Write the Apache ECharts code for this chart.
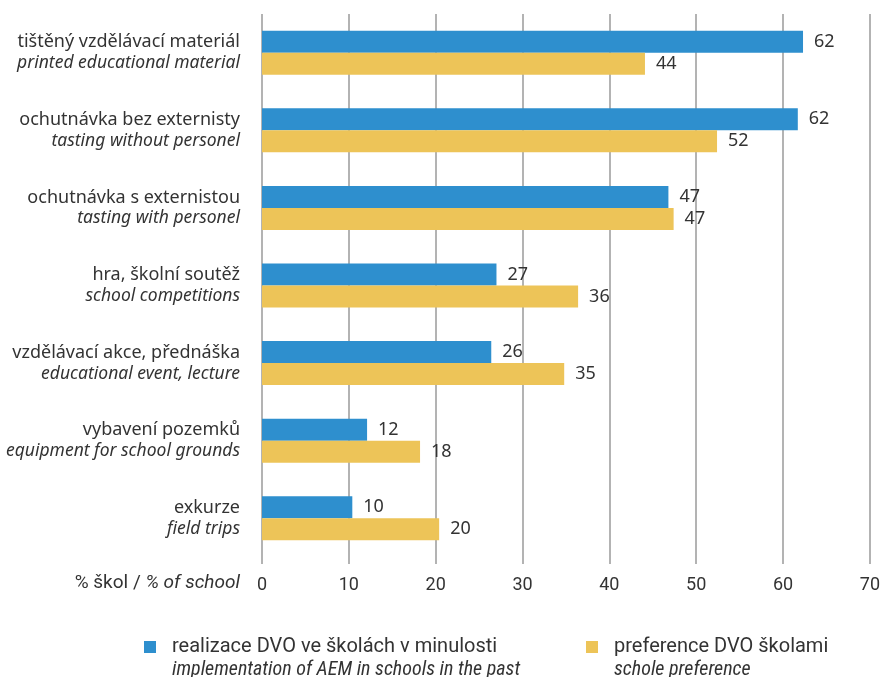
<!DOCTYPE html>
<html>
<head>
<meta charset="utf-8">
<script src="https://cdn.jsdelivr.net/npm/echarts@6/dist/echarts.min.js"></script>
<style>html,body{margin:0;padding:0;background:#fff}#c{width:883px;height:677px}</style>
</head>
<body>
<div id="c"></div>
<script>
const categoriesCz = ['tištěný vzdělávací materiál','ochutnávka bez externisty','ochutnávka s externistou','hra, školní soutěž','vzdělávací akce, přednáška','vybavení pozemků','exkurze'];
const categoriesEn = ['printed educational material','tasting without personel','tasting with personel','school competitions','educational event, lecture','equipment for school grounds','field trips'];
const valuesPast = [62.3, 61.7, 46.8, 27.0, 26.4, 12.1, 10.4];
const valuesPref = [44.1, 52.4, 47.4, 36.4, 34.8, 18.2, 20.4];
const labelsPast = ['62','62','47','27','26','12','10'];
const labelsPref = ['44','52','47','36','35','18','20'];
const xTicks = [0, 70, 10];
const seriesNamesCz = ['realizace DVO ve školách v minulosti','preference DVO školami'];
const seriesNamesEn = ['implementation of AEM in schools in the past','schole preference'];
const axisNameCz = '% škol / ';
const axisNameEn = '% of school';

const FONT = '"Noto Sans", sans-serif';
const RF = 'Roboto, sans-serif';
const CF = '"Roboto Condensed","Liberation Sans Narrow","DejaVu Sans Condensed",Roboto,sans-serif';
const TXT = '#333333';
const chart = echarts.init(document.getElementById('c'), null, {renderer: 'canvas'});
const legendIcon = 'path://M0,0h0.01v0.01h-0.01Z M0,6H12V18H0Z M11.99,46h0.01v0.01h-0.01Z';
function makeLegend(idx, left) {
  return {
    left: left, top: 635, padding: 0, itemWidth: 12, itemHeight: 46,
    icon: legendIcon,
    data: [seriesNamesCz[idx]],
    formatter: n => n + '\n{i|' + seriesNamesEn[idx] + '}',
    textStyle: {fontFamily: RF, fontSize: 20, color: TXT, lineHeight: 23, padding: [0,0,0,11],
      rich: {i: {fontFamily: CF, fontStyle: 'italic', fontSize: 20, color: TXT, lineHeight: 23}}}
  };
}
chart.setOption({
  animation: false,
  textStyle: {fontFamily: FONT},
  grid: {left: 262, right: 13, top: 14, bottom: 120, containLabel: false},
  legend: [makeLegend(0, 144), makeLegend(1, 586)],
  xAxis: {
    type: 'value', min: xTicks[0], max: xTicks[1], interval: xTicks[2],
    axisLine: {show: false},
    axisTick: {show: true, length: 7, lineStyle: {color: '#9a9a9a', width: 1.5}},
    splitLine: {show: true, lineStyle: {color: '#9a9a9a', width: 1.5}},
    axisLabel: {fontFamily: RF, fontSize: 18, color: TXT, margin: 19}
  },
  yAxis: {
    type: 'category', inverse: true, data: categoriesCz,
    axisLine: {show: false}, axisTick: {show: false},
    axisLabel: {
      margin: 22, fontSize: 18, color: TXT, lineHeight: 21, fontFamily: FONT,
      formatter: (v, i) => v + '\n{i|' + categoriesEn[i] + '}',
      rich: {i: {fontFamily: FONT, fontStyle: 'italic', fontSize: 17.5, color: TXT, lineHeight: 21}}
    }
  },
  graphic: [{
    type: 'text', right: 883 - 240, top: 574,
    style: {text: axisNameCz + '{i|' + axisNameEn + '}', font: '19px ' + RF, fill: TXT,
      rich: {i: {fontFamily: RF, fontStyle: 'italic', fontSize: 19, fill: TXT}}}
  }],
  series: [
    {name: seriesNamesCz[0], type: 'bar', data: valuesPast, barWidth: 22, barGap: '0%',
     itemStyle: {color: '#2E8FCE'},
     label: {show: true, position: 'right', distance: 11, fontFamily: FONT, fontSize: 18, color: TXT,
       formatter: p => labelsPast[p.dataIndex]}},
    {name: seriesNamesCz[1], type: 'bar', data: valuesPref, barWidth: 22, barGap: '0%',
     itemStyle: {color: '#EDC458'},
     label: {show: true, position: 'right', distance: 11, fontFamily: FONT, fontSize: 18, color: TXT,
       formatter: p => labelsPref[p.dataIndex]}}
  ]
});
</script>
</body>
</html>
